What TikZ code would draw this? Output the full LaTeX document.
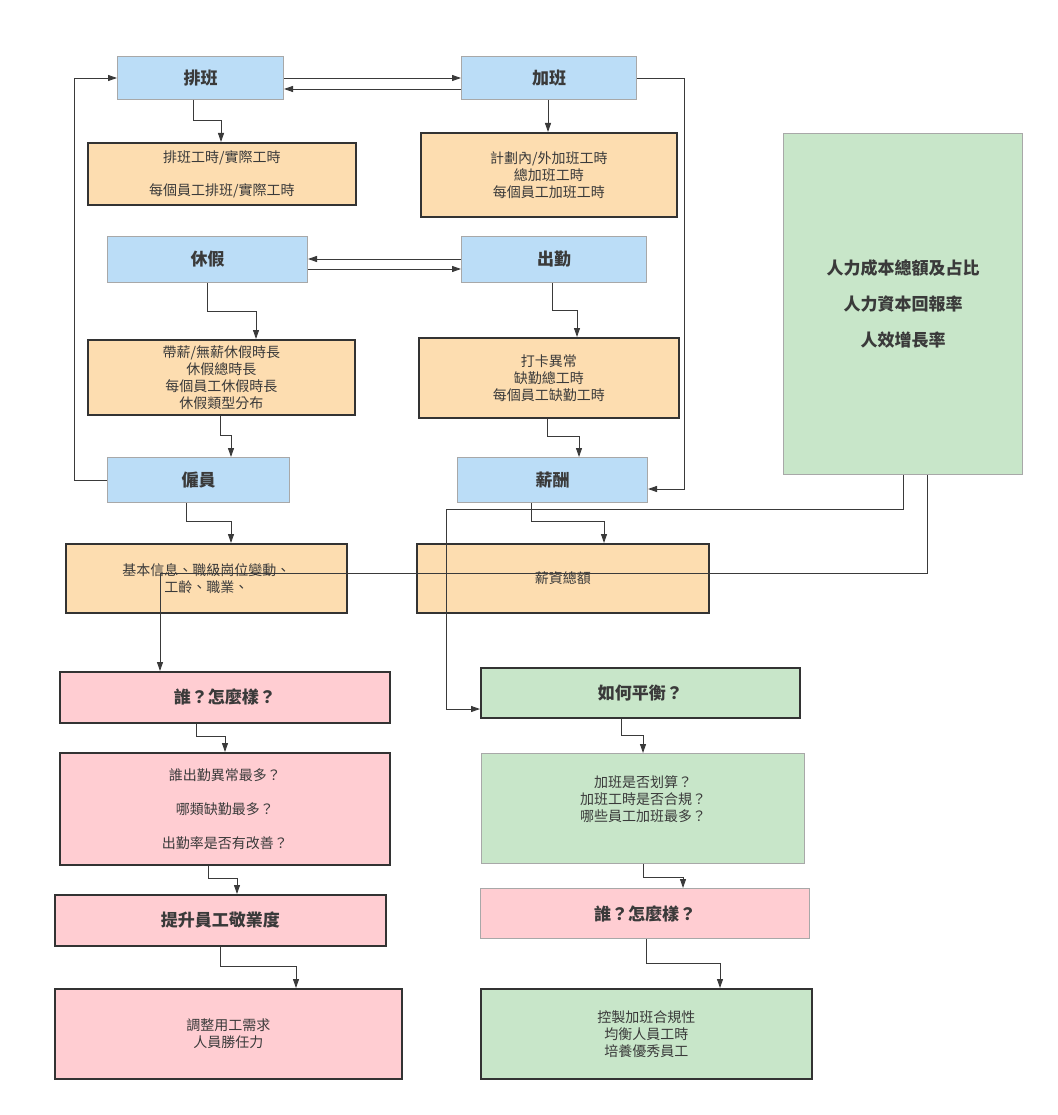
\documentclass[tikz,border=0pt]{standalone}
\usepackage{fontspec}
\setmainfont{Noto Sans CJK TC}
\usetikzlibrary{arrows.meta}
\definecolor{bluef}{HTML}{BBDDF7}
\definecolor{orangef}{HTML}{FDDDB0}
\definecolor{greenf}{HTML}{C8E6C9}
\definecolor{pinkf}{HTML}{FFCDD2}
\definecolor{darkb}{HTML}{333333}
\definecolor{lightb}{HTML}{A8A8A8}
\definecolor{txt}{HTML}{3A3A3A}
\definecolor{linec}{HTML}{3A3A3A}
\newcommand\mybox[7]{\node[#1,anchor=north west,minimum width={(#5)-(#3)},minimum height={(#6)-(#4)}] (#2) at (#3,#4) {#7};}
\newcommand\bt{\bfseries\fontsize{17}{20}\selectfont}
\tikzset{
  base/.style={rectangle,inner sep=2pt,align=center,text=txt,font=\fontsize{14}{17}\selectfont},
  boldtxt/.style={font=\bt},
  bluebox/.style={base,boldtxt,fill=bluef,draw=lightb,line width=1pt},
  orangebox/.style={base,fill=orangef,draw=darkb,line width=1.8pt},
  greenbig/.style={base,fill=greenf,draw=lightb,line width=1pt,font=\bfseries\fontsize{17}{20}\selectfont},
  pinkdark/.style={base,fill=pinkf,draw=darkb,line width=1.8pt},
  pinklight/.style={base,fill=pinkf,draw=lightb,line width=1pt},
  greendark/.style={base,fill=greenf,draw=darkb,line width=1.8pt},
  greenlight/.style={base,fill=greenf,draw=lightb,line width=1pt},
  arr/.style={draw=linec,line width=0.9pt,-{Triangle[length=9pt,width=6pt]}}
}
\begin{document}
\begin{tikzpicture}[x=1pt,y=-1pt]
\fill[white] (0,0) rectangle (1057,1115);
\useasboundingbox (0,0) rectangle (1057,1115);
% boxes
\mybox{bluebox}{paiban}{117}{56}{283}{99}{排班}
\mybox{bluebox}{jiaban}{461}{56}{636}{99}{加班}
\mybox{orangebox}{paibanT}{87}{142}{355}{204}{排班工時/實際工時\\[16pt]每個員工排班/實際工時}
\mybox{orangebox}{jihua}{420}{132}{676}{216}{計劃內/外加班工時\\總加班工時\\每個員工加班工時}
\mybox{bluebox}{xiujia}{107}{236}{307}{282}{休假}
\mybox{bluebox}{chuqin}{461}{236}{646}{282}{出勤}
\mybox{orangebox}{daixin}{87}{339}{354}{414}{帶薪/無薪休假時長\\休假總時長\\每個員工休假時長\\休假類型分布}
\mybox{orangebox}{daka}{418}{337}{678}{417}{打卡異常\\缺勤總工時\\每個員工缺勤工時}
\mybox{bluebox}{guyuan}{107}{457}{289}{502}{僱員}
\mybox{bluebox}{xinchou}{457}{457}{647}{502}{薪酬}
\mybox{orangebox}{jiben}{65}{543}{346}{612}{基本信息、職級崗位變動、\\工齡、職業、}
\mybox{orangebox}{xinzi}{416}{543}{708}{612}{薪資總額}
\mybox{greenbig}{green}{783}{133}{1022}{474}{人力成本總額及占比\\[16pt]人力資本回報率\\[16pt]人效增長率}
\mybox{pinkdark}{shuiL}{59}{671}{389}{722}{\bt 誰？怎麼樣？}
\mybox{pinkdark}{chuqinQ}{59}{752}{389}{864}{誰出勤異常最多？\\[17pt]哪類缺勤最多？\\[17pt]出勤率是否有改善？}
\mybox{pinkdark}{tisheng}{54}{894}{385}{945}{\bt 提升員工敬業度}
\mybox{pinkdark}{tiaozheng}{54}{988}{401}{1078}{調整用工需求\\人員勝任力}
\mybox{greendark}{ruhe}{480}{667}{799}{717}{\bt 如何平衡？}
\mybox{greenlight}{jiabanQ}{481}{753}{804}{863}{加班是否划算？\\加班工時是否合規？\\哪些員工加班最多？\\[2pt]~}
\mybox{pinklight}{shuiR}{480}{888}{809}{938}{\bt 誰？怎麼樣？}
\mybox{greendark}{kongzhi}{480}{988}{811}{1078}{控製加班合規性\\均衡人員工時\\培養優秀員工}
% connectors
\draw[arr] (paiban.east) -- (jiaban.west);
\draw[arr] (jiaban.west |- 0,89) -- (paiban.east |- 0,89);
\draw[arr] (guyuan.west) -| (paiban.west -| 74,0) -- (paiban.west);
\draw[arr] (jiaban.east) -| (684,489) -- (xinchou.east |- 0,489);
\draw[arr] (paiban.south -| 193,0) |- (221,120) -- (paibanT.north -| 221,0);
\draw[arr] (jiaban.south -| 548,0) -- (jihua.north -| 548,0);
\draw[arr] (chuqin.west |- 0,259) -- (xiujia.east |- 0,259);
\draw[arr] (xiujia.east |- 0,269) -- (chuqin.west |- 0,269);
\draw[arr] (xiujia.south -| 207,0) |- (256,311) -- (daixin.north -| 256,0);
\draw[arr] (chuqin.south -| 552,0) |- (577,310) -- (daka.north -| 577,0);
\draw[arr] (daixin.south -| 220,0) |- (231,435) -- (guyuan.north -| 231,0);
\draw[arr] (daka.south -| 547,0) |- (579,436) -- (xinchou.north -| 579,0);
\draw[arr] (guyuan.south -| 186,0) |- (231,521) -- (jiben.north -| 231,0);
\draw[arr] (xinchou.south -| 531,0) |- (604,521) -- (xinzi.north -| 604,0);
\draw[arr] (green.south -| 903,0) |- (446,509) |- (ruhe.west |- 0,709);
\draw[arr] (green.south -| 927,0) |- (160,573) -- (shuiL.north -| 160,0);
\draw[arr] (shuiL.south -| 196,0) |- (225,736) -- (chuqinQ.north -| 225,0);
\draw[arr] (chuqinQ.south -| 208,0) |- (237,878) -- (tisheng.north -| 237,0);
\draw[arr] (tisheng.south -| 220,0) |- (296,966) -- (tiaozheng.north -| 296,0);
\draw[arr] (ruhe.south -| 621,0) |- (643,735) -- (jiabanQ.north -| 643,0);
\draw[arr] (jiabanQ.south -| 643,0) |- (683,877) -- (shuiR.north -| 683,0);
\draw[arr] (shuiR.south -| 646,0) |- (720,963) -- (kongzhi.north -| 720,0);
\end{tikzpicture}
\end{document}
